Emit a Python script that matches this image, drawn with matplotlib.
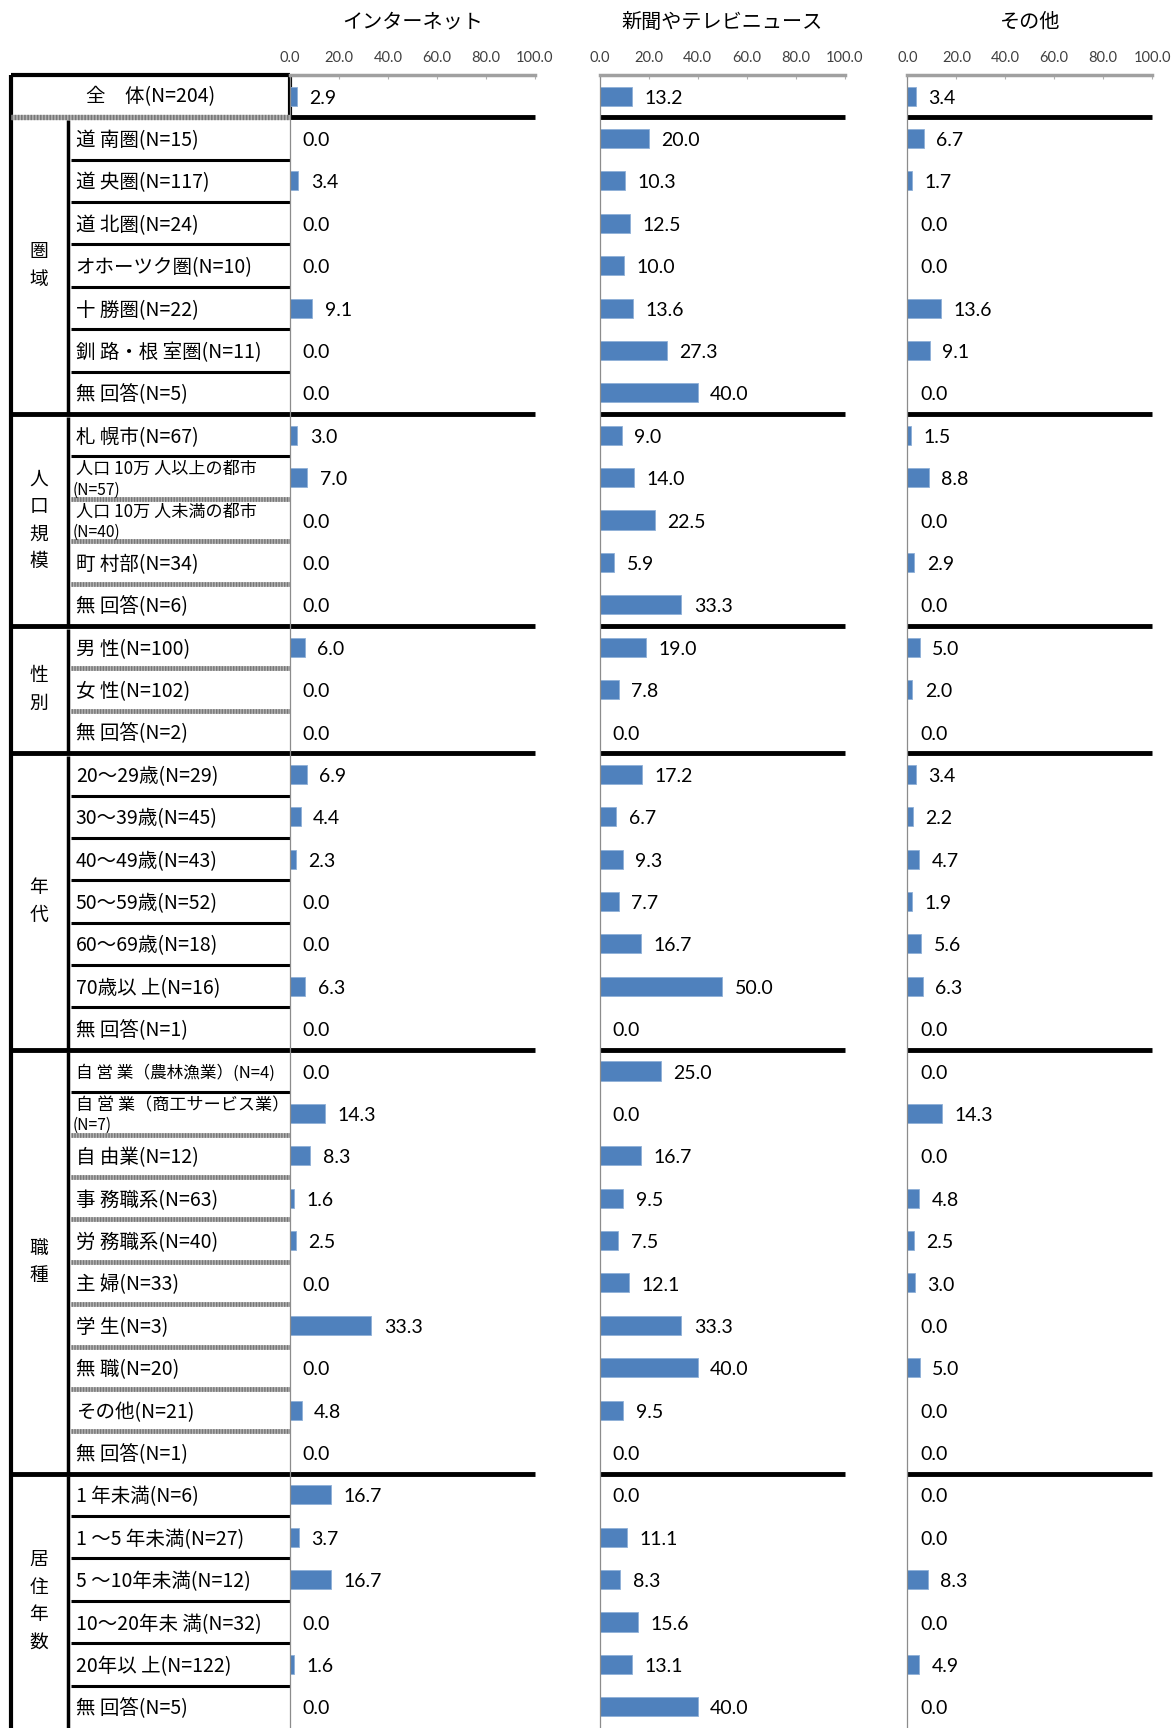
import matplotlib.pyplot as plt

plt.rcParams['font.family'] = ['Noto Sans CJK JP', 'DejaVu Sans']

# ---- data ----
titles = ["インターネット", "新聞やテレビニュース", "その他"]

row_labels = [
    "全　体(N=204)",
    "道 南圏(N=15)", "道 央圏(N=117)", "道 北圏(N=24)", "オホーツク圏(N=10)",
    "十 勝圏(N=22)", "釧 路・根 室圏(N=11)", "無 回答(N=5)",
    "札 幌市(N=67)", "人口 10万 人以上の都市\n(N=57)", "人口 10万 人未満の都市\n(N=40)",
    "町 村部(N=34)", "無 回答(N=6)",
    "男 性(N=100)", "女 性(N=102)", "無 回答(N=2)",
    "20～29歳(N=29)", "30～39歳(N=45)", "40～49歳(N=43)", "50～59歳(N=52)",
    "60～69歳(N=18)", "70歳以 上(N=16)", "無 回答(N=1)",
    "自 営 業（農林漁業）(N=4)", "自 営 業（商工サービス業）\n(N=7)", "自 由業(N=12)",
    "事 務職系(N=63)", "労 務職系(N=40)", "主 婦(N=33)", "学 生(N=3)", "無 職(N=20)",
    "その他(N=21)", "無 回答(N=1)",
    "1 年未満(N=6)", "1 ～5 年未満(N=27)", "5 ～10年未満(N=12)", "10～20年未 満(N=32)",
    "20年以 上(N=122)", "無 回答(N=5)",
]

internet = [2.9,
            0.0, 3.4, 0.0, 0.0, 9.1, 0.0, 0.0,
            3.0, 7.0, 0.0, 0.0, 0.0,
            6.0, 0.0, 0.0,
            6.9, 4.4, 2.3, 0.0, 0.0, 6.3, 0.0,
            0.0, 14.3, 8.3, 1.6, 2.5, 0.0, 33.3, 0.0, 4.8, 0.0,
            16.7, 3.7, 16.7, 0.0, 1.6, 0.0]

news = [13.2,
        20.0, 10.3, 12.5, 10.0, 13.6, 27.3, 40.0,
        9.0, 14.0, 22.5, 5.9, 33.3,
        19.0, 7.8, 0.0,
        17.2, 6.7, 9.3, 7.7, 16.7, 50.0, 0.0,
        25.0, 0.0, 16.7, 9.5, 7.5, 12.1, 33.3, 40.0, 9.5, 0.0,
        0.0, 11.1, 8.3, 15.6, 13.1, 40.0]

other = [3.4,
         6.7, 1.7, 0.0, 0.0, 13.6, 9.1, 0.0,
         1.5, 8.8, 0.0, 2.9, 0.0,
         5.0, 2.0, 0.0,
         3.4, 2.2, 4.7, 1.9, 5.6, 6.3, 0.0,
         0.0, 14.3, 0.0, 4.8, 2.5, 3.0, 0.0, 5.0, 0.0, 0.0,
         0.0, 0.0, 8.3, 0.0, 4.9, 0.0]

group_names = ["圏域", "人口規模", "性別", "年代", "職種", "居住年数"]
group_starts = [1, 8, 13, 16, 23, 33]

# rows whose lower separator (in the label column) is the grey hatched kind
gray_seps = [9, 10, 11, 13, 14, 24, 25, 26, 27, 28, 29, 30, 31]

BLUE = "#4F81BD"
n = len(row_labels)
W, H = 1063, 1568
top = 1 - 68 / H

fig = plt.figure(figsize=(11.72, 17.28), dpi=100)

kw = dict(clip_on=False, solid_capstyle="butt")


def hatched(ax, xs, ys, lw=3.4):
    # grey "hatched" double line like the Excel border
    ax.plot(xs, ys, color="#b4b4b4", lw=lw, **kw)
    ax.plot(xs, ys, color="#777777", lw=lw, dashes=(0.3, 0.3), clip_on=False)


# ==========================
# TABLE (left side)
# ==========================
ax_t = fig.add_axes([10 / W, 0, 253 / W, top])
ax_t.set_xlim(0, 1)
ax_t.set_ylim(n, 0)
ax_t.axis("off")

div_x = 0.2055
lab_x = 0.232

ax_t.plot([0, 0], [0, n], color="black", lw=3, **kw)
ax_t.plot([0, 1], [0, 0], color="black", lw=3, **kw)
ax_t.plot([1, 1], [0, 1], color="black", lw=3, **kw)
hatched(ax_t, [0, 1], [1, 1], lw=3.8)

ax_t.text(0.5, 0.52, row_labels[0], ha="center", va="center", fontsize=14)

group_ends = group_starts[1:] + [n]
for name, s, e in zip(group_names, group_starts, group_ends):
    if s > 1:
        ax_t.plot([0, 1], [s, s], color="black", lw=3.5, **kw)
    ax_t.plot([div_x, div_x], [s + 0.06, e], color="black", lw=2.5, **kw)
    ax_t.text(0.099, (s + e) / 2, "\n".join(name), ha="center", va="center",
              fontsize=13.5, linespacing=1.4)
    for i in range(s, e - 1):
        if i in gray_seps:
            hatched(ax_t, [div_x + 0.01, 1], [i + 1, i + 1])
        else:
            ax_t.plot([div_x + 0.01, 1], [i + 1, i + 1], color="black", lw=2.2, **kw)

for i in range(1, n):
    lab = row_labels[i]
    if "\n" in lab:
        l1, l2 = lab.split("\n")
        ax_t.text(lab_x, i + 0.3, l1, ha="left", va="center", fontsize=12.3)
        ax_t.text(lab_x - 0.01, i + 0.79, l2, ha="left", va="center", fontsize=11.2)
    elif "農林漁業" in lab:
        ax_t.text(lab_x, i + 0.55, lab, ha="left", va="center", fontsize=12)
    else:
        ax_t.text(lab_x, i + 0.55, lab, ha="left", va="center", fontsize=14)

# ==========================
# BAR PANELS
# ==========================
lefts = [263, 544, 823]
series = [internet, news, other]
ticks = [0, 20, 40, 60, 80, 100]
ypos = [i + 0.5 for i in range(n)]

for left, title, vals in zip(lefts, titles, series):
    ax = fig.add_axes([left / W, 0, 222 / W, top])
    ax.barh(ypos, vals, height=0.45, color=BLUE, edgecolor="#8fb0d8", linewidth=0.6)
    ax.set_xlim(0, 100)
    ax.set_ylim(n, 0)
    ax.xaxis.tick_top()
    ax.set_xticks(ticks)
    ax.set_xticklabels([f"{t:.1f}" for t in ticks], fontsize=10.5, color="#404040",
                       family="Lato")
    ax.tick_params(axis="x", direction="in", length=3, color="#b0b0b0", pad=7)
    ax.set_yticks([])
    ax.spines["right"].set_visible(False)
    ax.spines["bottom"].set_visible(False)
    ax.spines["top"].set_color("#a0a0a0")
    ax.spines["top"].set_linewidth(2.5)
    ax.spines["left"].set_color("#8c8c8c")
    ax.spines["left"].set_linewidth(0.9)
    ax.set_facecolor("none")

    for b in group_starts:
        ax.plot([0, 100], [b, b], color="black", lw=3.5, **kw)

    for y, v in zip(ypos, vals):
        ax.annotate(f"{v:.1f}", (v, y), xytext=(9, -1.5), textcoords="offset points",
                    ha="left", va="center", fontsize=14, family="Lato")

    fig.text((left + 111) / W, 1 - 20 / H, title, ha="center", va="center",
             fontsize=14.5)

plt.savefig("out.png", dpi=100)
